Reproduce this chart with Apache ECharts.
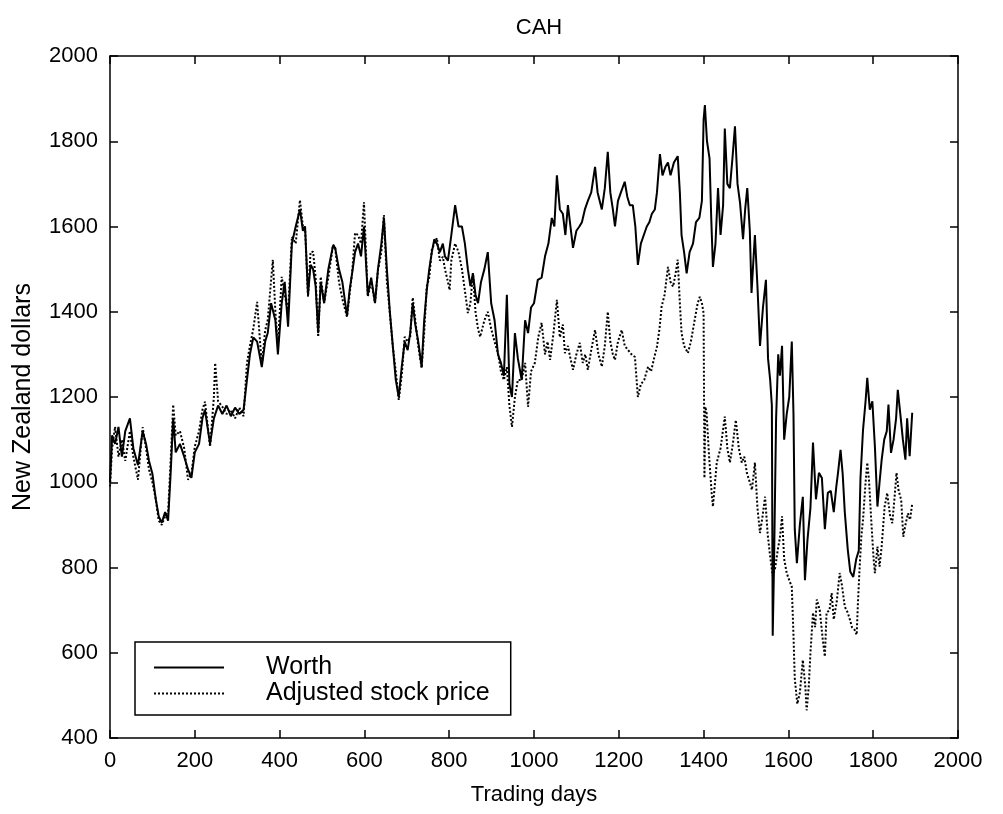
<!DOCTYPE html>
<html>
<head>
<meta charset="utf-8">
<script src="https://cdn.jsdelivr.net/npm/echarts@6/dist/echarts.min.js"></script>
<style>html,body{margin:0;padding:0;background:#fff}#c{width:1003px;height:814px}</style>
</head>
<body>
<div id="c"></div>
<script>
var titleText = 'CAH';
var xName = 'Trading days';
var yName = 'New Zealand dollars';
var seriesNames = ['Worth', 'Adjusted stock price'];

var worthDays = [0,5,12,20,28,36,47,55,66,77,85,92,100,108,115,122,130,137,143,149,155,165,175,184,192,200,210,218,224,236,245,255,265,275,285,295,305,315,323,330,338,347,358,366,372,380,390,396,405,412,420,429,438,448,455,460,467,473,479,485,491,497,505,515,526,531,540,548,559,565,571,578,585,592,599,608,616,625,632,640,646,653,660,667,674,681,688,695,702,708,714,720,727,735,741,747,753,759,765,771,778,785,790,797,805,814,822,830,837,844,850,856,862,868,875,883,891,899,907,915,922,929,936,942,948,955,962,971,979,986,993,1000,1009,1018,1026,1034,1042,1048,1054,1061,1068,1074,1080,1086,1092,1100,1107,1113,1120,1127,1135,1144,1150,1155,1160,1167,1174,1180,1186,1191,1198,1205,1214,1220,1226,1233,1239,1245,1252,1259,1266,1272,1278,1285,1290,1297,1303,1310,1316,1322,1330,1339,1344,1348,1354,1360,1367,1375,1382,1390,1396,1400,1403,1408,1414,1418,1422,1428,1434,1440,1446,1450,1456,1462,1468,1474,1480,1486,1493,1498,1503,1509,1513,1518,1521,1527,1533,1540,1547,1552,1557,1561,1563,1566,1571,1576,1580,1585,1590,1596,1602,1608,1612,1615,1620,1627,1634,1639,1645,1652,1658,1665,1672,1679,1686,1693,1700,1707,1713,1717,1723,1728,1733,1740,1746,1753,1760,1766,1770,1776,1782,1786,1792,1798,1804,1810,1815,1820,1826,1832,1836,1842,1848,1854,1858,1864,1870,1876,1880,1886,1892];
var worthVals = [1000,1110,1090,1130,1060,1120,1150,1080,1040,1120,1090,1050,1020,960,920,905,930,910,1020,1150,1070,1090,1060,1030,1010,1070,1090,1150,1170,1090,1150,1180,1160,1180,1155,1175,1160,1170,1240,1300,1340,1330,1270,1330,1350,1420,1380,1300,1420,1470,1365,1560,1600,1640,1590,1600,1440,1510,1500,1460,1350,1470,1420,1500,1555,1550,1500,1470,1390,1450,1490,1540,1560,1530,1600,1440,1480,1420,1500,1560,1620,1500,1400,1320,1240,1200,1270,1330,1310,1350,1420,1370,1330,1270,1380,1450,1500,1540,1570,1560,1540,1560,1530,1520,1580,1650,1600,1600,1560,1500,1460,1490,1440,1420,1470,1500,1540,1420,1380,1300,1280,1250,1440,1230,1200,1350,1290,1240,1380,1350,1410,1420,1475,1480,1530,1560,1620,1600,1720,1640,1630,1580,1650,1600,1550,1590,1600,1610,1640,1660,1680,1740,1680,1660,1640,1690,1775,1680,1640,1600,1660,1680,1705,1670,1650,1650,1600,1510,1560,1580,1600,1610,1630,1640,1680,1770,1720,1740,1750,1720,1750,1765,1680,1580,1540,1490,1540,1560,1610,1620,1660,1850,1885,1800,1760,1620,1505,1560,1690,1580,1650,1830,1700,1690,1760,1835,1700,1655,1570,1640,1690,1590,1444,1530,1580,1460,1320,1410,1475,1290,1240,1180,640,800,1150,1300,1250,1320,1100,1160,1200,1330,1160,890,810,900,966,770,865,940,1093,960,1022,1010,890,975,980,930,990,1022,1076,1020,930,842,790,778,820,840,1010,1123,1190,1245,1170,1190,1084,943,1000,1053,1100,1120,1182,1069,1100,1150,1217,1160,1100,1053,1150,1061,1163];

var adjDays = [0,5,12,20,28,36,47,55,66,77,85,92,100,108,115,122,130,137,143,149,155,165,175,184,192,200,210,218,224,236,245,248,255,265,275,285,295,305,315,323,330,338,347,358,366,372,384,390,396,405,412,420,429,438,448,455,460,467,473,479,485,491,497,505,515,526,531,540,548,559,565,571,578,585,592,599,608,616,625,632,640,646,653,660,667,674,681,688,695,702,708,714,720,727,735,741,747,753,759,765,771,778,785,790,797,801,805,814,822,830,837,844,850,856,862,868,873,883,891,899,907,915,922,929,936,942,948,955,962,971,979,986,993,1002,1010,1018,1026,1032,1038,1046,1054,1061,1068,1073,1080,1086,1092,1100,1108,1115,1121,1127,1135,1144,1152,1160,1167,1174,1180,1186,1191,1198,1207,1214,1222,1230,1238,1245,1252,1260,1269,1276,1283,1290,1296,1301,1308,1316,1322,1328,1334,1339,1344,1348,1354,1363,1370,1379,1386,1391,1396,1400,1402,1404,1407,1413,1419,1422,1431,1440,1450,1456,1462,1469,1476,1483,1490,1496,1502,1509,1514,1521,1527,1533,1539,1545,1551,1556,1563,1569,1575,1580,1585,1590,1596,1602,1608,1612,1615,1621,1627,1634,1640,1643,1648,1652,1658,1663,1667,1674,1681,1686,1690,1697,1702,1707,1714,1721,1726,1733,1740,1745,1750,1756,1761,1764,1768,1772,1776,1782,1786,1790,1796,1801,1804,1810,1815,1820,1827,1833,1840,1845,1850,1855,1860,1866,1871,1876,1882,1887,1892];
var adjVals = [990,1080,1130,1060,1100,1050,1120,1060,1006,1129,1080,1030,1000,960,910,900,920,930,1050,1182,1110,1120,1080,1006,1020,1084,1120,1170,1189,1083,1200,1280,1190,1177,1160,1170,1150,1175,1155,1280,1320,1360,1423,1275,1357,1380,1522,1400,1320,1482,1440,1400,1576,1560,1662,1600,1599,1435,1540,1541,1480,1341,1482,1421,1480,1557,1552,1470,1430,1388,1440,1491,1585,1580,1560,1657,1435,1470,1421,1498,1540,1627,1470,1397,1318,1260,1193,1250,1341,1330,1340,1433,1380,1320,1268,1350,1459,1480,1545,1560,1573,1520,1529,1500,1470,1451,1520,1560,1540,1500,1450,1397,1420,1491,1400,1360,1341,1380,1400,1360,1330,1303,1260,1240,1270,1180,1130,1200,1240,1240,1280,1177,1260,1280,1340,1374,1300,1330,1287,1350,1428,1340,1370,1303,1320,1290,1264,1300,1327,1280,1300,1264,1310,1357,1300,1271,1320,1400,1330,1300,1287,1330,1357,1320,1310,1300,1294,1200,1230,1240,1271,1260,1290,1318,1360,1412,1440,1505,1470,1459,1490,1522,1420,1350,1320,1303,1330,1381,1420,1435,1420,1397,1010,1177,1163,1060,975,943,1046,1080,1154,1080,1046,1090,1146,1080,1046,1060,1022,1000,982,1046,940,881,920,966,880,834,780,800,842,870,920,820,787,770,755,640,540,480,506,583,520,465,520,600,694,660,725,700,631,591,694,700,740,678,720,787,760,708,694,678,660,654,642,717,800,872,912,1000,1046,1006,900,820,787,849,802,850,943,975,920,904,960,1022,980,959,872,900,927,912,950];

var xTicks = {min: 0, max: 2000, step: 200};
var yTicks = {min: 400, max: 2000, step: 200};

function pairs(d, v) { return d.map(function (x, i) { return [x, v[i]]; }); }

var font = '"Liberation Sans", Arial, Helvetica, sans-serif';
var chart = echarts.init(document.getElementById('c'), null, {renderer: 'canvas'});

function axisBase(t, pos, showLabel) {
  return {
    type: 'value', position: pos, min: t.min, max: t.max, interval: t.step,
    axisLine: {show: true, onZero: false, lineStyle: {color: '#000', width: 1.5}},
    axisTick: {show: true, inside: true, length: 8, lineStyle: {color: '#000', width: 1.5}},
    splitLine: {show: false},
    axisLabel: {show: showLabel, color: '#000', fontSize: 22, fontFamily: font, margin: 12,
      formatter: function (v) { return String(v); }}
  };
}

var xb = axisBase(xTicks, 'bottom', true);
xb.name = xName; xb.nameLocation = 'middle'; xb.nameGap = 46;
xb.nameTextStyle = {color: '#000', fontSize: 22, fontFamily: font};
var xt = axisBase(xTicks, 'top', false);
var yl = axisBase(yTicks, 'left', true);
yl.name = yName; yl.nameLocation = 'middle'; yl.nameGap = 74;
yl.nameTextStyle = {color: '#000', fontSize: 25, fontFamily: font};
var yr = axisBase(yTicks, 'right', false);

chart.setOption({
  animation: false,
  backgroundColor: '#fff',
  title: {text: titleText, left: 534, top: 12, textAlign: 'center',
    textStyle: {color: '#000', fontSize: 22, fontWeight: 'normal', fontFamily: font}},
  grid: {left: 110, right: 45, top: 56, bottom: 76, containLabel: false},
  legend: {
    data: seriesNames, orient: 'vertical', left: 135, top: 642,
    itemWidth: 70, itemHeight: 14, itemGap: 1,
    padding: [13, 21, 9, 18],
    borderColor: '#000', borderWidth: 1.5, backgroundColor: '#fff',
    itemStyle: {opacity: 0},
    textStyle: {color: '#000', fontSize: 25, fontFamily: font, padding: [0, 0, 0, 37]}
  },
  xAxis: [xb, xt],
  yAxis: [yl, yr],
  series: [
    {name: seriesNames[0], type: 'line', data: pairs(worthDays, worthVals),
      symbol: 'none', showSymbol: false, xAxisIndex: 0, yAxisIndex: 0,
      lineStyle: {color: '#000', width: 2, type: 'solid'}, itemStyle: {color: '#000'}},
    {name: seriesNames[1], type: 'line', data: pairs(adjDays, adjVals),
      symbol: 'none', showSymbol: false, xAxisIndex: 0, yAxisIndex: 0,
      lineStyle: {color: '#000', width: 2, type: [2, 2]}, itemStyle: {color: '#000'}}
  ]
});
</script>
</body>
</html>
